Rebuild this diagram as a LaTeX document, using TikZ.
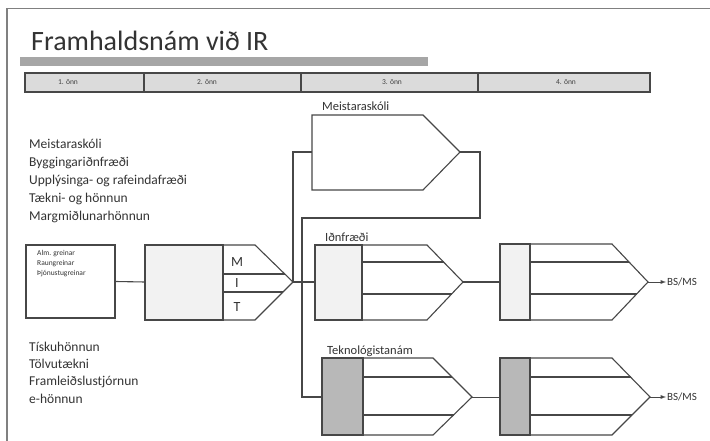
\documentclass[tikz,border=0pt]{standalone}
\usepackage{fontspec}
\setmainfont{Carlito}
\usepackage{tikz}

\begin{document}
\begin{tikzpicture}[x=1pt,y=-1pt,
    ln/.style={draw=black!72, line width=1.1pt},
    lbl/.style={anchor=base west, inner sep=0pt, text=black!80, font=\fontsize{12.5}{15}\selectfont},
    lst/.style={anchor=north west, align=left, inner sep=0pt, text=black!80},
    sem/.style={text=black!75, font=\fontsize{7.5}{8}\selectfont}]
    \useasboundingbox (0,0) rectangle (710,441);
    \draw[black!50, line width=1.3pt] (7,441) -- (7,8.5) -- (710,8.5);
    \node[anchor=base west, inner sep=0pt, text=black!80, font=\fontsize{28}{31}\selectfont] (title) at (31,51) {Framhaldsnám við IR};
    \fill[black!35] (20,57) rectangle (428,66);
    \draw[ln, fill=black!14] (25,73) rectangle (650,92);
    \foreach \x in {144,301,478} \draw[ln] (\x,73) -- (\x,92);
    \foreach \x/\n in {68/1,207/2,392/3,566/4} \node[sem] (s\n) at (\x,82) {\n. önn};
    \node[lst, font=\fontsize{13.5}{18}\selectfont] (upper) at (29,139) {Meistaraskóli\\Byggingariðnfræði\\Upplýsinga- og rafeindafræði\\Tækni- og hönnun\\Margmiðlunarhönnun};
    \node[lst, font=\fontsize{13.5}{17.2}\selectfont] (lower) at (29,342) {Tískuhönnun\\Tölvutækni\\Framleiðslustjórnun\\e-hönnun};
    \node[ln, rectangle, minimum width=89pt, minimum height=73pt, inner sep=0pt] (alm) at (70.5,281.5) {};
    \node[lst, font=\fontsize{7.5}{10}\selectfont] (almtext) at (37,250) {Alm. greinar\\Raungreinar\\Þjónustugreinar};
    \draw[ln, fill=black!5] (145,245) rectangle (223,320);
    \draw[ln] (223,245) -- (255,245) -- (293,282) -- (255,320) -- (223,320);
    \draw[ln] (223,274) -- (285,274);
    \draw[ln] (223,292) -- (283,292);
    \node[text=black!80, font=\fontsize{14}{16}\selectfont] (m) at (237,262) {M};
    \node[text=black!80, font=\fontsize{14}{16}\selectfont] (i) at (237,283) {I};
    \node[text=black!80, font=\fontsize{14}{16}\selectfont] (t) at (237,307) {T};
    \draw[ln] (312,115) -- (423,115) -- (460,152) -- (423,190) -- (312,190) -- cycle;
    \node[lbl] (meist) at (322,111) {Meistaraskóli};
    \draw[ln, fill=black!5] (315,245) rectangle (362,320);
    \draw[ln] (362,245) -- (427,245) -- (463,282) -- (427,320) -- (362,320);
    \draw[ln] (362,262) -- (443.5,262);
    \draw[ln] (362,294) -- (451.6,294);
    \node[lbl] (idn) at (325,241) {Iðnfræði};
    \draw[ln, fill=black!5] (500,244) rectangle (530,320);
    \draw[ln] (530,244) -- (612,244) -- (648,282) -- (612,320) -- (530,320);
    \draw[ln] (530,262) -- (629,262);
    \draw[ln] (530,294) -- (636.6,294);
    \draw[ln, fill=black!28] (322,358) rectangle (363,435);
    \draw[ln] (363,358) -- (433,358) -- (472,397) -- (433,435) -- (363,435);
    \draw[ln] (363,377) -- (452,377);
    \draw[ln] (363,415) -- (453.5,415);
    \node[lbl] (tek) at (327,354) {Teknológistanám};
    \draw[ln, fill=black!28] (500,358) rectangle (530,435);
    \draw[ln] (530,358) -- (612,358) -- (650,397) -- (612,435) -- (530,435);
    \draw[ln] (530,377) -- (630.5,377);
    \draw[ln] (530,415) -- (632,415);
    \coordinate (mit in) at (145,282);
    \coordinate (mit out) at (293,282);
    \coordinate (meist in) at (312,152);
    \coordinate (meist out) at (460,152);
    \coordinate (idn1 in) at (315,282);
    \coordinate (idn1 out) at (463,282);
    \coordinate (idn2 in) at (500,282);
    \coordinate (idn2 out) at (648,282);
    \coordinate (tek1 in) at (322,397);
    \coordinate (tek1 out) at (472,397);
    \coordinate (tek2 in) at (500,397);
    \coordinate (tek2 out) at (650,397);
    \node[anchor=west, inner sep=1pt, text=black!80, font=\fontsize{11}{13}\selectfont] (bs1) at (666,282) {BS/MS};
    \node[anchor=west, inner sep=1pt, text=black!80, font=\fontsize{11}{13}\selectfont] (bs2) at (666,397) {BS/MS};
    \draw[ln] (alm.east) -- (mit in);
    \draw[ln, line width=2.2pt] (mit out) -- (idn1 in);
    \draw[ln] (mit out) |- (meist in);
    \draw[ln] (meist out) -| (480,218) -- (302,218) |- (tek1 in);
    \draw[ln, line width=1.8pt] (idn1 out) -- (idn2 in);
    \draw[ln, line width=0.9pt] (tek1 out) -- (tek2 in);
    \draw[ln, line width=0.9pt, -latex] (idn2 out) -- (bs1.west);
    \draw[ln, line width=0.9pt, -latex] (tek2 out) -- (bs2.west);
\end{tikzpicture}
\end{document}
